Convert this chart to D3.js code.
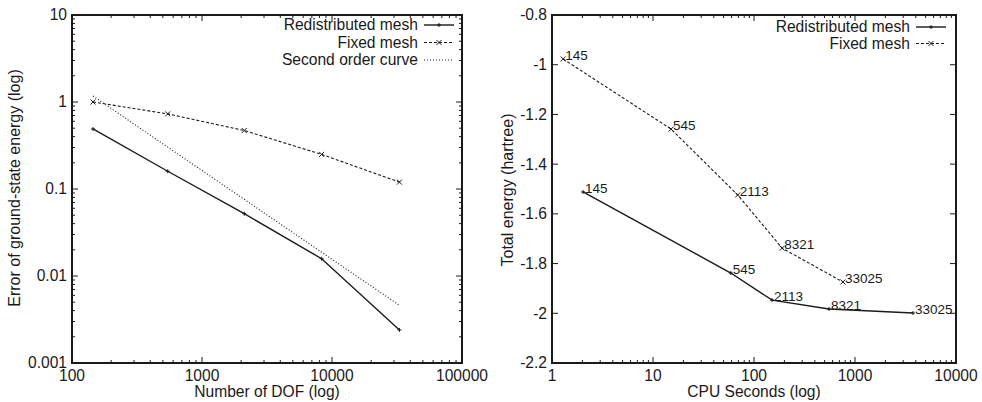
<!DOCTYPE html>
<html>
<head>
<meta charset="utf-8">
<script src="https://cdn.jsdelivr.net/npm/d3@7"></script>
<style>
  html, body { margin: 0; padding: 0; background: #fff; }
  svg { display: block; font-family: "Liberation Sans", Arial, sans-serif; }
</style>
</head>
<body>
<svg id="chart" width="982" height="402"></svg>
<script>
// ---------- Data ----------
const dof = [145, 545, 2113, 8321, 33025];
const errRedistributed = [0.49, 0.16, 0.052, 0.0158, 0.0024];
const errFixed = [1.0, 0.73, 0.47, 0.25, 0.12];
const secondOrderX = [145, 33025];
const secondOrderY = [1.17, 0.0046];

const cpuRedistributed = [2.03, 59, 151, 553, 3750];
const energyRedistributed = [-1.512, -1.838, -1.947, -1.983, -1.999];
const cpuFixed = [1.29, 15.1, 69, 190, 760];
const energyFixed = [-0.977, -1.259, -1.524, -1.738, -1.874];
const pointLabels = ["145", "545", "2113", "8321", "33025"];

const leftXTicks = [100, 1000, 10000, 100000];
const leftXTickLabels = ["100", "1000", "10000", "100000"];
const leftYTicks = [0.001, 0.01, 0.1, 1, 10];
const leftYTickLabels = ["0.001", "0.01", "0.1", "1", "10"];
const rightXTicks = [1, 10, 100, 1000, 10000];
const rightXTickLabels = ["1", "10", "100", "1000", "10000"];
const rightYTicks = [-2.2, -2, -1.8, -1.6, -1.4, -1.2, -1, -0.8];
const rightYTickLabels = ["-2.2", "-2", "-1.8", "-1.6", "-1.4", "-1.2", "-1", "-0.8"];

const leftLegend = ["Redistributed mesh", "Fixed mesh", "Second order curve"];
const rightLegend = ["Redistributed mesh", "Fixed mesh"];

// ---------- Drawing ----------
const svg = d3.select("#chart");
const INK = "#1a1a1a";
const FS = 15.6;
const TFS = 16;

function minorLog(domain) {
  const out = [];
  for (let e = Math.round(Math.log10(domain[0])); e < Math.round(Math.log10(domain[1])); e++) {
    for (let k = 2; k <= 9; k++) out.push(k * Math.pow(10, e));
  }
  return out;
}

function frame(g, x, y, xTicks, xLabels, xMinor, yTicks, yLabels, yMinor) {
  const [x0, x1] = x.range();
  const [y0, y1] = y.range(); // y0 bottom, y1 top
  const maj = 6, min = 3;
  const tick = (a, b, c, d) => g.append("line").attr("x1", a).attr("x2", b).attr("y1", c).attr("y2", d).attr("stroke", INK).attr("stroke-width", 1);
  xTicks.forEach(t => { tick(x(t), x(t), y0, y0 - maj); tick(x(t), x(t), y1, y1 + maj); });
  xMinor.forEach(t => { tick(x(t), x(t), y0, y0 - min); tick(x(t), x(t), y1, y1 + min); });
  yTicks.forEach(t => { tick(x0, x0 + maj, y(t), y(t)); tick(x1, x1 - maj, y(t), y(t)); });
  yMinor.forEach(t => { tick(x0, x0 + min, y(t), y(t)); tick(x1, x1 - min, y(t), y(t)); });
  g.append("rect").attr("x", x0).attr("y", y1).attr("width", x1 - x0).attr("height", y0 - y1)
    .attr("fill", "none").attr("stroke", INK).attr("stroke-width", 2);
  xTicks.forEach((t, i) => {
    g.append("text").attr("x", x(t)).attr("y", y0 + 18).attr("text-anchor", "middle")
      .attr("font-size", FS).attr("fill", INK).text(xLabels[i]);
  });
  yTicks.forEach((t, i) => {
    g.append("text").attr("x", x0 - 5).attr("y", y(t)).attr("dy", "0.35em").attr("text-anchor", "end")
      .attr("font-size", FS).attr("fill", INK).text(yLabels[i]);
  });
}

function plus(g, px, py, s) {
  g.append("path").attr("d", `M${px - s},${py}H${px + s}M${px},${py - s}V${py + s}`).attr("stroke", INK).attr("stroke-width", 1);
}
function cross(g, px, py, s) {
  g.append("path").attr("d", `M${px - s},${py - s}L${px + s},${py + s}M${px - s},${py + s}L${px + s},${py - s}`).attr("stroke", INK).attr("stroke-width", 1);
}

const SOLID = { dash: null, w: 1.4 };
const DASHED = { dash: "3,2", w: 1.1 };
const DOTTED = { dash: "1,2", w: 1.1 };

function series(g, x, y, xs, ys, style, marker) {
  const line = d3.line().x(d => x(d[0])).y(d => y(d[1]));
  const pts = xs.map((v, i) => [v, ys[i]]);
  g.append("path").attr("d", line(pts)).attr("fill", "none").attr("stroke", INK)
    .attr("stroke-width", style.w).attr("stroke-dasharray", style.dash);
  if (marker) pts.forEach(p => marker(g, x(p[0]), y(p[1]), marker === plus ? 2 : 2.5));
}

function legend(g, items, styles, markers, xTextEnd, yStart, step) {
  items.forEach((name, i) => {
    const yy = yStart + i * step;
    g.append("text").attr("x", xTextEnd).attr("y", yy).attr("dy", "0.35em").attr("text-anchor", "end")
      .attr("font-size", FS).attr("fill", INK).text(name);
    const lx0 = xTextEnd + 6, lx1 = xTextEnd + 36;
    g.append("line").attr("x1", lx0).attr("x2", lx1).attr("y1", yy).attr("y2", yy)
      .attr("stroke", INK).attr("stroke-width", styles[i].w).attr("stroke-dasharray", styles[i].dash);
    if (markers[i]) markers[i](g, (lx0 + lx1) / 2, yy, markers[i] === plus ? 2 : 2.5);
  });
}

// ----- Left panel -----
const gL = svg.append("g");
const xL = d3.scaleLog().domain([100, 100000]).range([72, 462]);
const yL = d3.scaleLog().domain([0.001, 10]).range([363, 15]);
frame(gL, xL, yL, leftXTicks, leftXTickLabels, minorLog([100, 100000]), leftYTicks, leftYTickLabels, minorLog([0.001, 10]));
series(gL, xL, yL, dof, errRedistributed, SOLID, plus);
series(gL, xL, yL, dof, errFixed, DASHED, cross);
series(gL, xL, yL, secondOrderX, secondOrderY, DOTTED, null);
legend(gL, leftLegend, [SOLID, DASHED, DOTTED], [plus, cross, null], 418, 25, 17.5);
gL.append("text").attr("x", 267).attr("y", 397).attr("text-anchor", "middle").attr("font-size", FS).attr("fill", INK).text("Number of DOF (log)");
gL.append("text").attr("transform", "translate(20,188) rotate(-90)").attr("text-anchor", "middle").attr("font-size", TFS).attr("fill", INK).text("Error of ground-state energy (log)");

// ----- Right panel -----
const gR = svg.append("g");
const xR = d3.scaleLog().domain([1, 10000]).range([552, 956]);
const yR = d3.scaleLinear().domain([-2.2, -0.8]).range([363, 15]);
frame(gR, xR, yR, rightXTicks, rightXTickLabels, minorLog([1, 10000]), rightYTicks, rightYTickLabels, []);
series(gR, xR, yR, cpuRedistributed, energyRedistributed, SOLID, plus);
series(gR, xR, yR, cpuFixed, energyFixed, DASHED, cross);
function pointText(g, xs, ys) {
  xs.forEach((v, i) => {
    g.append("text").attr("x", xR(v) + 2).attr("y", yR(ys[i]) - 4).attr("dy", "0.35em")
      .attr("font-size", 13.5).attr("fill", INK).text(pointLabels[i]);
  });
}
pointText(gR, cpuRedistributed, energyRedistributed);
pointText(gR, cpuFixed, energyFixed);
legend(gR, rightLegend, [SOLID, DASHED], [plus, cross], 910, 27, 16.5);
gR.append("text").attr("x", 754).attr("y", 397).attr("text-anchor", "middle").attr("font-size", FS).attr("fill", INK).text("CPU Seconds (log)");
gR.append("text").attr("transform", "translate(513,190) rotate(-90)").attr("text-anchor", "middle").attr("font-size", TFS).attr("fill", INK).text("Total energy (hartree)");
</script>
</body>
</html>
